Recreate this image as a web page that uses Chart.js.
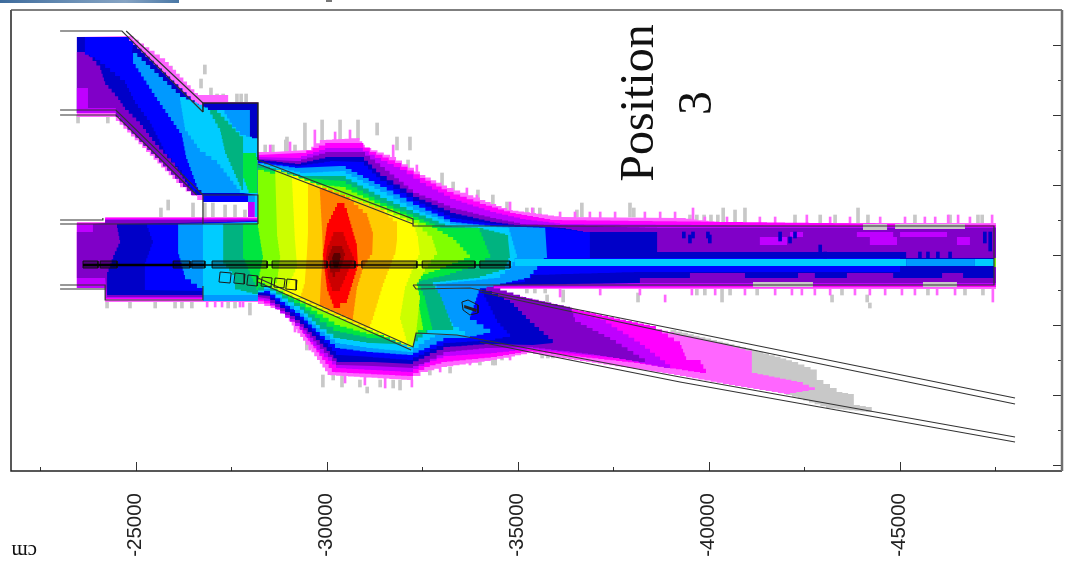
<!DOCTYPE html>
<html><head><meta charset="utf-8">
<style>html,body{margin:0;padding:0;background:#fff;overflow:hidden}
#wrap{position:relative;width:1067px;height:570px}
#strip{position:absolute;left:0;top:0;width:179px;height:3px;background:linear-gradient(90deg,#3d6b9c,#6f93b8 45%,#86a4c4 70%,#4a78a6)}
#nick{position:absolute;left:326px;top:0;width:6px;height:2px;background:#777}
canvas{position:absolute;left:0;top:0}</style>
<script src="https://cdn.jsdelivr.net/npm/chart.js@4/dist/chart.umd.min.js"></script>
</head><body><div id="wrap"><canvas id="c" width="1067" height="570"></canvas><div id="strip"></div><div id="nick"></div></div>
<script>
// axis values (cm)
const xTickValues=[-25000,-30000,-35000,-40000,-45000];
const xMinorValues=[-22500,-27500,-32500,-37500,-42500,-47500];
const yTickValues=[5250,3500,1750,0,-1750,-3500,-5250];
const yMinorValues=[4375,2625,875,-875,-2625,-4375];
const xRange=[-49250,-21735], yRange=[-5400,6125];
const titleLines=["Position","3"], unitLabel="cm";

// upper-left branch contour bands [x,y]
const upperMagenta=[[-23460,5450],[-24800,5475],[-25770,4825],[-26630,3950],[-26550,4000],[-27420,4000],[-27420,3825],[-28200,3825],[-28200,1375],[-26760,1375],[-26160,1800],[-24480,3450],[-23460,3450]];
const upperDark=[[-23460,5450],[-24720,5450],[-26760,3575],[-26760,3800],[-28200,3800],[-28200,1500],[-26550,1500],[-24480,3550],[-23460,3550]];
const upperPurple=[[-23460,5075],[-23670,5075],[-24070,4625],[-24200,4250],[-24540,3875],[-24720,3625],[-25110,3250],[-25510,2750],[-26030,2200],[-26420,1625],[-26550,1500],[-24480,3550],[-23460,3550]];
const upperViolet=[[-23460,4175],[-23750,4175],[-23750,3675],[-24480,3675],[-24480,3550],[-23460,3550]];
const upperBlue=[[-23670,5450],[-24720,5450],[-24930,5250],[-24900,5050],[-25240,4375],[-25560,3950],[-26210,3050],[-26340,2500],[-26630,1625],[-26550,1575],[-26210,2125],[-25770,2625],[-25370,3375],[-24980,3875],[-24720,4375],[-24070,4875],[-23670,5075]];
const upperMid=[[-24930,5050],[-26160,3950],[-26810,3625],[-27990,3625],[-27990,2875],[-27730,1550],[-26810,1550],[-26630,1700],[-26320,2500],[-26210,3050],[-25560,3950],[-24930,4875]];
const upperCyan=[[-26160,3950],[-26890,3625],[-27260,3625],[-27520,3200],[-27730,3000],[-28200,2875],[-28200,1500],[-27810,1550],[-27130,2375],[-26680,2675],[-26290,3200]];
const upperTeal=[[-26950,3625],[-27130,3550],[-27810,2875],[-27810,1625],[-27340,2625],[-27210,3175]];
const upperGreen=[[-27810,2550],[-28120,2550],[-28200,2250],[-28200,1550],[-27990,1550],[-27810,2000]];
const boxRowBlue=[[-26760,1500],[-27940,1500],[-27940,1325],[-26760,1325]];
const boxRowMid=[[-27940,1500],[-28200,1500],[-28200,1325],[-27940,1325]];
const boxColViolet=[[-27940,1325],[-28120,1325],[-28120,925],[-27940,925]];
const boxColCyan=[[-28120,1500],[-28200,1500],[-28200,800],[-28120,800]];

// main nested contour bands [x,y]
const bandLightMagenta=[[-23460,825],[-24200,825],[-24200,950],[-28200,950],[-28200,2575],[-28590,2575],[-29480,2625],[-29820,2875],[-30790,2925],[-31000,2675],[-31660,2450],[-32440,2000],[-33150,1675],[-34010,1375],[-34720,1125],[-35320,1050],[-36110,950],[-39250,925],[-40300,800],[-47520,800],[-47520,-850],[-34010,-850],[-36110,-1275],[-39250,-2000],[-40300,-2225],[-41130,-2425],[-41130,-2950],[-42310,-3175],[-42780,-3375],[-42130,-3475],[-40690,-3250],[-39250,-3000],[-35400,-2450],[-34460,-2625],[-33150,-2800],[-32650,-2925],[-32260,-3125],[-30090,-3000],[-29820,-2625],[-29380,-2050],[-28860,-1375],[-28200,-1175],[-24200,-1175],[-24200,-825],[-23460,-825]];
const bandMagenta=[[-23460,800],[-24200,800],[-24200,925],[-28200,925],[-28200,2500],[-29300,2550],[-29960,2800],[-30790,2800],[-31130,2575],[-31790,2300],[-32440,1925],[-33150,1575],[-34010,1275],[-34800,1050],[-35850,875],[-47520,750],[-47520,-800],[-34010,-825],[-36110,-1300],[-38460,-1775],[-39250,-2250],[-39410,-2625],[-39720,-2625],[-39930,-2950],[-38200,-2700],[-35400,-2400],[-34460,-2550],[-33150,-2675],[-32700,-2800],[-32260,-3025],[-30220,-2925],[-29880,-2525],[-29430,-1950],[-28990,-1375],[-28200,-1100],[-24200,-1100],[-24200,-825],[-23460,-825]];
const bandViolet=[[-23460,775],[-24200,775],[-24200,900],[-28200,900],[-28200,2450],[-29170,2425],[-29960,2675],[-30790,2675],[-31260,2425],[-31920,2125],[-32440,1800],[-33230,1400],[-34280,1075],[-35060,900],[-36110,775],[-47520,700],[-47520,-750],[-34010,-800],[-36110,-1350],[-37160,-1625],[-38200,-2250],[-38990,-2825],[-37680,-2575],[-35400,-2350],[-34460,-2450],[-33230,-2525],[-32700,-2700],[-32260,-2925],[-30350,-2825],[-29820,-2375],[-29300,-1775],[-28520,-1150],[-28200,-1075],[-24200,-1075],[-24200,-825],[-23460,-825]];
const bandPurple=[[-23880,775],[-24200,800],[-24200,875],[-28200,875],[-28200,2400],[-29170,2350],[-29960,2575],[-30870,2575],[-31400,2200],[-32260,1550],[-33230,1175],[-34280,925],[-35060,775],[-38650,675],[-47520,675],[-47520,-700],[-38200,-700],[-34200,-775],[-35060,-1050],[-36370,-1325],[-36500,-1675],[-37420,-2125],[-38330,-2675],[-37160,-2500],[-35400,-2300],[-34280,-2325],[-33230,-2425],[-32700,-2675],[-32260,-2825],[-31210,-2775],[-30350,-2750],[-29820,-2250],[-29300,-1700],[-28520,-1100],[-28200,-1050],[-24250,-1050],[-24200,-575],[-23460,-575],[-23460,575],[-23880,575]];
const bandDarkBlue=[[-24510,775],[-27600,825],[-28200,825],[-28200,2375],[-29170,2275],[-29960,2450],[-30870,2450],[-31400,1975],[-32260,1450],[-33230,1050],[-34280,825],[-35060,725],[-36110,675],[-36710,575],[-38650,575],[-38650,75],[-45170,75],[-45170,-75],[-47470,-75],[-47470,-575],[-38200,-575],[-38200,-700],[-34280,-750],[-34010,-825],[-34800,-1200],[-35320,-1700],[-35920,-2200],[-35400,-2250],[-34280,-2225],[-33230,-2300],[-32700,-2525],[-32260,-2725],[-31210,-2675],[-30350,-2675],[-29820,-2125],[-29300,-1625],[-28520,-1025],[-28200,-1000],[-24250,-1000],[-24250,-425],[-24410,0],[-24590,375]];
const bandBlue=[[-25300,775],[-28200,850],[-28200,2325],[-29170,2225],[-30090,2350],[-30870,2325],[-31400,1850],[-32260,1350],[-33230,925],[-34280,775],[-35720,700],[-36710,575],[-36890,575],[-36890,-75],[-45010,-75],[-45010,-425],[-38200,-425],[-35510,-500],[-35190,-675],[-34280,-725],[-34010,-850],[-34460,-1700],[-34800,-2050],[-34410,-2125],[-33230,-2200],[-32700,-2425],[-32260,-2625],[-31210,-2550],[-30350,-2500],[-29820,-2000],[-29300,-1525],[-28520,-975],[-28200,-925],[-25240,-875],[-25240,-175],[-25450,375]];
const bandMidBlue=[[-26110,775],[-28200,825],[-28200,2300],[-29170,2175],[-30350,2225],[-31400,1700],[-32260,1250],[-33230,825],[-34280,725],[-35720,675],[-35770,-75],[-35510,-375],[-35320,-575],[-34540,-750],[-34010,-875],[-33750,-1625],[-34280,-1950],[-33750,-2075],[-33230,-2075],[-32700,-2325],[-32260,-2500],[-31210,-2425],[-30350,-2325],[-29820,-1925],[-29300,-1450],[-28520,-900],[-28200,-975],[-28200,-1150],[-26760,-1150],[-26760,-825],[-26290,-500],[-26110,125]];
const bandCyan=[[-26760,775],[-28200,825],[-28200,2275],[-29300,2050],[-30350,2100],[-31400,1575],[-32260,1125],[-33230,775],[-34750,675],[-34980,-75],[-34800,-375],[-34540,-575],[-32970,-725],[-32780,-950],[-33310,-1800],[-33620,-2000],[-32970,-2000],[-32700,-2125],[-32260,-2425],[-31210,-2325],[-30350,-2200],[-29820,-1825],[-29300,-1375],[-28520,-850],[-28200,-1000],[-26760,-1000]];
const bandTeal=[[-27290,775],[-28200,800],[-28200,2250],[-29300,1975],[-30350,1975],[-31400,1425],[-32260,1050],[-33100,725],[-33960,675],[-34670,500],[-34750,375],[-34800,-75],[-34670,-375],[-34010,-575],[-32970,-675],[-32780,-775],[-32970,-1050],[-33310,-1875],[-32760,-1875],[-32260,-2250],[-31210,-2200],[-30350,-2075],[-29820,-1750],[-29300,-1275],[-28520,-800],[-28200,-975],[-27600,-825],[-27600,-500],[-27290,-125]];
const bandGreen=[[-27810,775],[-28200,800],[-28200,2175],[-29300,1925],[-30350,1850],[-31400,1300],[-32260,950],[-32970,675],[-33960,675],[-34280,-75],[-34010,-250],[-33230,-500],[-32360,-675],[-32570,-1125],[-32760,-1875],[-32440,-2000],[-32260,-2125],[-31210,-2075],[-30350,-1900],[-29820,-1575],[-29300,-1200],[-28520,-750],[-28200,-875],[-28120,-675],[-27810,0]];
const bandLime=[[-28200,775],[-28200,2125],[-29300,1800],[-30350,1700],[-31400,1225],[-32260,875],[-32760,675],[-33310,375],[-33750,-75],[-32970,-375],[-32360,-575],[-32360,-1000],[-32520,-1875],[-32260,-2050],[-31210,-1975],[-30350,-1750],[-29300,-1125],[-28570,-775],[-28200,-625],[-28330,0]];
const bandYellowGreen=[[-28650,2125],[-30350,1500],[-31400,1125],[-32260,800],[-32760,375],[-32890,0],[-32570,-425],[-32360,-775],[-32440,-1125],[-32340,-2000],[-32260,-2300],[-31210,-1875],[-30350,-1525],[-29300,-1075],[-28570,-775],[-28700,-625],[-28780,0],[-28700,550]];
const bandYellow=[[-29090,1975],[-30350,1500],[-31400,1125],[-32260,775],[-32390,375],[-32440,0],[-32260,-375],[-32050,-875],[-31920,-1625],[-32100,-2225],[-31210,-1875],[-30350,-1525],[-29300,-1075],[-28910,-900],[-29220,-250],[-29170,375]];
const bandAmber=[[-29510,1800],[-30350,1500],[-31400,1125],[-31840,750],[-31840,375],[-31790,0],[-31470,-800],[-31210,-1625],[-31130,-1825],[-30350,-1500],[-29560,-1150],[-29300,-1050],[-29430,-625],[-29480,0],[-29510,550]];
const bandOrange=[[-29820,1675],[-30480,1450],[-31060,950],[-31210,500],[-31190,0],[-30950,-375],[-30790,-875],[-30690,-1600],[-29820,-1225],[-29850,-625],[-29900,0],[-29880,625]];
const bandRed=[[-30270,1300],[-30400,1300],[-30530,1050],[-30790,200],[-30820,-300],[-30530,-1200],[-30350,-1325],[-30220,-1325],[-30010,-800],[-29900,50],[-30010,800]];
const bandDarkRed=[[-30170,575],[-30400,575],[-30530,250],[-30710,-125],[-30480,-625],[-30350,-900],[-30170,-900],[-30030,-500],[-29980,-75],[-30030,250]];
const bandDeepRed=[[-30140,225],[-30370,225],[-30480,-25],[-30350,-425],[-30220,-550],[-30090,-325],[-30030,-25]];
const bandPeak=[[-30190,50],[-30350,50],[-30370,-75],[-30300,-325],[-30190,-325],[-30140,-75]];

// lower branch grey tail and right pipe details
const tailGray=[[-39000,-1875],[-41130,-2375],[-42180,-2675],[-42830,-2925],[-42830,-3125],[-43350,-3425],[-43800,-3500],[-43800,-3750],[-44270,-3825],[-44270,-3925],[-43220,-3825],[-42180,-3500],[-39000,-2675]];
const coreCyan=[[-34930,-100],[-45170,-100],[-45170,-275],[-34930,-275]];
const coreMid=[[-45170,-100],[-46970,-100],[-46970,-275],[-45170,-275]];
const coreCyanEnd=[[-46970,-100],[-47470,-100],[-47470,-275],[-46970,-275]];
const coreEndCell=[[-47470,-75],[-47520,-75],[-47520,-300],[-47470,-300]];
const rowGrayA=[[-44040,775],[-44670,775],[-44670,625],[-44040,625]];
const rowGrayB=[[-44880,775],[-46710,775],[-46710,650],[-44880,650]];
const rowGrayC=[[-41160,-675],[-42730,-675],[-42730,-800],[-41160,-800]];
const rowGrayD=[[-45610,-675],[-46500,-675],[-46500,-800],[-45610,-800]];
const patchVioletA=[[-41340,450],[-42050,450],[-42050,250],[-41340,250]];
const patchVioletB=[[-44220,450],[-44930,450],[-44930,250],[-44220,250]];
const patchVioletC=[[-46500,450],[-46840,450],[-46840,250],[-46500,250]];
const patchVioletD=[[-42130,575],[-42470,575],[-42470,450],[-42130,450]];
const patchVioletE=[[-43880,575],[-44830,575],[-44830,450],[-43880,450]];
const patchVioletF=[[-45010,575],[-46240,575],[-46240,450],[-45010,450]];
const patchPurpleA=[[-39510,-450],[-40950,-450],[-40950,-575],[-39510,-575]];
const patchPurpleB=[[-42340,-450],[-42780,-450],[-42780,-575],[-42340,-575]];
const patchPurpleC=[[-43620,-450],[-44830,-450],[-44830,-575],[-43620,-575]];
const patchPurpleD=[[-46110,-450],[-46660,-450],[-46660,-575],[-46110,-575]];

// scatter columns outside the bands [x,low,high]
const graySpikes=[[-25920,4500,4725],[-26810,4525,4750],[-26710,4175,4400],[-26970,3975,4175],[-27130,3800,4025],[-27290,3800,4025],[-27650,3800,4025],[-27760,3800,4025],[-27890,3800,4025],[-28390,2500,2750],[-28930,2500,2875],[-29170,2500,2750],[-29430,2625,3300],[-29880,2625,3375],[-30350,2875,3375],[-30820,2875,3375],[-31320,3000,3300],[-28960,2575,2950],[-28590,2575,2750],[-31840,2625,2950],[-32180,2625,2950],[-32130,2075,2375],[-33020,1700,2050],[-33310,1550,1825],[-33960,1375,1625],[-34350,1250,1500],[-34720,1075,1325],[-35240,950,1175],[-35400,950,1175],[-35580,950,1175],[-36680,950,1300],[-36550,950,1125],[-37940,950,1300],[-38040,950,1175],[-39510,800,1000],[-39690,800,1000],[-39880,800,1000],[-40060,800,1000],[-40240,800,1000],[-40380,800,1175],[-40690,800,1125],[-40950,800,1175],[-42260,800,1000],[-42920,800,1000],[-43310,800,1000],[-43910,800,1175],[-44170,800,1000],[-45400,800,1000],[-46320,800,1000],[-47050,800,1000],[-47160,800,1000],[-40350,-1175,-825],[-43230,-1175,-1000],[-44150,-1175,-1000],[-44220,-1325,-1200],[-39690,-1000,-825],[-39900,-1000,-825],[-40560,-1000,-825],[-41270,-1000,-825],[-43490,-1000,-825],[-45740,-1000,-825],[-46710,-1000,-825],[-47180,-1000,-825],[-35240,-950,-825],[-35450,-950,-825],[-35720,-950,-825],[-36190,-1175,-875],[-35770,-1175,-1000],[-38150,-1175,-950],[-29900,-3300,-3000],[-31060,-3450,-3300],[-30870,-3300,-3125],[-31400,-3300,-3125],[-31740,-3325,-3125],[-31920,-3375,-3125],[-33230,-2950,-2800],[-32700,-3000,-2800],[-34010,-2750,-2450],[-34350,-2750,-2450],[-34590,-2625,-2450],[-33620,-2675,-2450],[-33800,-2675,-2375],[-34410,-2750,-2550],[-35640,-2575,-2400],[-35790,-2575,-2400],[-35920,-2575,-2400],[-29480,-2375,-2075],[-27990,-1500,-1200],[-24250,-1325,-1175],[-24850,-1325,-1175],[-25510,-1325,-1175],[-26030,-1325,-1175],[-26210,-1325,-1175],[-26470,-1325,-1175],[-27420,-1325,-1175],[-27600,-1325,-1175],[-30170,-3125,-2950],[-30400,-3300,-2950],[-23490,3300,3500],[-24270,3300,3500],[-25850,1125,1375],[-25660,950,1175],[-26500,950,1300],[-26810,950,1300],[-27020,950,1300],[-27340,950,1250],[-27600,950,1250],[-27860,950,1125]];
const magentaSpikes=[[-30220,2875,3075],[-31740,2375,2750],[-32360,1950,2250],[-33670,1375,1675],[-33930,1250,1500],[-34800,1075,1325],[-35380,925,1175],[-39590,800,1175],[-40480,800,950],[-42570,800,1000],[-46270,800,1000],[-46530,800,1000],[-47420,800,1000],[-39560,-1000,-825],[-42180,-1000,-825],[-42440,-1000,-825],[-43180,-1000,-825],[-44220,-1000,-825],[-45060,-1000,-825],[-45980,-1000,-825],[-47440,-1175,-825],[-38860,-1175,-1000],[-28520,2550,2750],[-29040,2575,2825],[-29690,2625,3125],[-30610,2875,3125],[-30480,-3200,-3000],[-31000,-3250,-3000],[-31530,-3325,-3075],[-32230,-3300,-3125],[-32970,-2925,-2750],[-33750,-2750,-2500],[-34800,-2625,-2425],[-29560,-2375,-2125],[-29170,-1925,-1700],
 [-36110,925,1075],[-36500,925,1075],[-36890,925,1075],[-37160,925,1075],[-37550,925,1075],[-38330,925,1075],[-38730,925,1075],[-39120,925,1075],[-39900,800,950],[-41340,800,950],[-41740,800,950],[-43180,800,950],[-43700,800,950],[-44490,800,950],[-45140,800,950],[-45660,800,950],[-45930,800,950],[-46840,800,950],
 [-36110,-1050,-825],[-37160,-1000,-825],[-38200,-1000,-825],[-40170,-1000,-825],[-40950,-1000,-825],[-41740,-1000,-825],[-42780,-1000,-825],[-43830,-1000,-825],[-44620,-1000,-825],[-45400,-1000,-825],[-46450,-1000,-825],
 [-26870,-1300,-1150],[-27080,-1300,-1150],[-27260,-1300,-1150],[-27730,-1300,-1150],[-27810,-1300,-1150]];
const darkStripes=[[-39350,425,575],[-39590,425,575],[-39510,300,500],[-40030,300,500],[-39980,425,575],[-41870,350,575],[-42130,300,450],[-42260,425,575],[-42920,75,250],[-43050,-75,75],[-45530,-75,75],[-45740,-75,75],[-46000,-75,75],[-46320,-75,75],[-47230,300,575],[-47370,100,575]];

// geometry outlines [x,y]
const wallA=[[-23020,5600],[-24640,5600],[-26760,3575]];
const wallA2=[[-24750,5600],[-26760,3800]];
const wallBox=[[-26760,3575],[-26760,3800],[-28200,3800],[-28200,2375]];
const wallB=[[-23020,3625],[-24480,3625],[-26760,1500],[-28200,1500],[-28200,775]];
const wallB2=[[-23020,3500],[-24480,3500],[-26600,1500]];
const wallC=[[-26760,1500],[-26760,775]];
const wallD=[[-23020,875],[-24140,875],[-24140,925]];
const wallD2=[[-23020,775],[-24200,775],[-28200,775]];
const wallE=[[-23020,-750],[-24200,-750],[-24200,-1125],[-26760,-1125],[-26760,-775]];
const wallE2=[[-23020,-850],[-24200,-850]];
const wallF=[[-28200,2375],[-32260,900],[-32260,725],[-47470,725],[-47470,-750],[-32260,-750]];
const wallF2=[[-28200,2275],[-32260,775]];
const wallG=[[-32260,-750],[-32340,-850],[-33750,-825],[-39250,-1875],[-48020,-3575]];
const wallG2=[[-34010,-925],[-39250,-2000],[-48020,-3725]];
const wallH=[[-28200,-575],[-32260,-2300],[-32340,-1950],[-33410,-2000],[-39250,-3050],[-48020,-4550]];
const wallH2=[[-28200,-675],[-32210,-2375]];
const wallH3=[[-34010,-2175],[-39250,-3175],[-48020,-4675]];
const beamStarts=[-23620,-24070,-25980,-26470,-27000,-28570,-30090,-30920,-32500,-34010];
const beamEnds=[-24010,-24510,-26420,-26810,-28440,-30010,-30740,-32360,-33880,-34800];
const beamTop=-150, beamBottom=-325;
const beamAxisA=[[-23620,-250],[-26810,-250]];
const beamAxisB=[[-26810,-250],[-34800,-250]];
const squareA=[[-27210,-425],[-27500,-450],[-27470,-700],[-27180,-675],[-27210,-425]];
const squareB=[[-27600,-450],[-27860,-475],[-27840,-725],[-27570,-700],[-27600,-450]];
const squareC=[[-27940,-500],[-28200,-525],[-28180,-775],[-27910,-750],[-27940,-500]];
const squareD=[[-28310,-550],[-28570,-575],[-28540,-800],[-28280,-775],[-28310,-550]];
const squareE=[[-28650,-575],[-28910,-600],[-28880,-825],[-28620,-800],[-28650,-575]];
const squareF=[[-28960,-600],[-29220,-625],[-29200,-875],[-28930,-850],[-28960,-600]];
const capsule=[[-33540,-1175],[-33700,-1125],[-33960,-1250],[-33960,-1450],[-33750,-1500],[-33570,-1375],[-33540,-1175]];
const capsuleCore=[[-33600,-1250],[-33930,-1350],[-33910,-1425],[-33600,-1325]];

// colours
const cGray='#c8c8c8',cLM='#ff66ff',cM='#ff00ff',cV='#bf00ff',cP='#8000c8',cDB='#0000c8',cB='#0000ff',cMB='#0099ff',cC='#00ccff',cT='#00b380',cG='#00e640',cL='#80ff00',cYG='#ccff00',cY='#ffff00',cA='#ffcc00',cO='#ff8000',cR='#ff0000',cDR='#cc0000',cDDR='#990000',cPk='#5a0000';

const pts=a=>a.map(p=>({x:p[0],y:p[1]}));
const ds=[];
const spikes=(a,color,w)=>ds.push({type:'bar',data:a.map(s=>({x:s[0],y:[s[1],s[2]]})),backgroundColor:color,barThickness:w,grouped:false});
const band=(a,color,stairs=true)=>ds.push({type:'line',data:pts(a),polygon:true,stairs,polyFill:color,showLine:false,pointRadius:0,borderWidth:0});
const wall=(a,color='#333',w=1.2)=>ds.push({type:'line',data:pts(a),showLine:true,fill:false,pointRadius:0,borderWidth:w,borderColor:color,tension:0});

spikes(graySpikes,cGray,3);
band(tailGray,cGray);
spikes(magentaSpikes,cLM,2);
[[upperMagenta,cLM],[upperDark,cDB],[upperPurple,cP],[upperViolet,cV],[upperBlue,cB],[upperMid,cMB],[upperCyan,cC],[upperTeal,cT],[upperGreen,cG],
 [boxRowBlue,cB],[boxRowMid,cMB],[boxColViolet,cV],[boxColCyan,cC],
 [bandLightMagenta,cLM],[bandMagenta,cM],[bandViolet,cV],[bandPurple,cP],[bandDarkBlue,cDB],[bandBlue,cB],[bandMidBlue,cMB],[bandCyan,cC],[bandTeal,cT],[bandGreen,cG],[bandLime,cL],[bandYellowGreen,cYG],[bandYellow,cY],[bandAmber,cA],[bandOrange,cO],[bandRed,cR],[bandDarkRed,cDR],[bandDeepRed,cDDR],[bandPeak,cPk]
].forEach(b=>band(b[0],b[1]));
[[coreCyan,cC],[coreMid,cMB],[coreCyanEnd,cC],[coreEndCell,cL],[rowGrayA,cGray],[rowGrayB,cGray],[rowGrayC,cGray],[rowGrayD,cGray],
 [patchVioletA,cV],[patchVioletB,cV],[patchVioletC,cV],[patchVioletD,cV],[patchVioletE,cV],[patchVioletF,cV],
 [patchPurpleA,cP],[patchPurpleB,cP],[patchPurpleC,cP],[patchPurpleD,cP]].forEach(b=>band(b[0],b[1],false));
spikes(darkStripes,cDB,3);
[wallA,wallA2,wallB,wallB2,wallC,wallD,wallD2,wallE,wallE2,wallF,wallF2,wallG,wallG2,wallH,wallH2,wallH3].forEach(w=>wall(w));
wall(wallBox,'#222',1.5);
beamStarts.forEach((s,i)=>{
  band([[s,beamTop],[beamEnds[i],beamTop],[beamEnds[i],beamBottom],[s,beamBottom]],'rgba(0,0,0,0.38)',false);
  wall([[s,beamTop],[beamEnds[i],beamTop],[beamEnds[i],beamBottom],[s,beamBottom],[s,beamTop]],'#111',1);
});
wall(beamAxisA,'#000',2.5);
wall(beamAxisB,'rgba(0,0,0,0.7)',2);
[squareA,squareB,squareC,squareD,squareE,squareF,capsule].forEach(w=>wall(w,'#1a1a1a',1));
band(capsuleCore,'#222',false);
ds.forEach((d,i)=>{d.order=ds.length-i;});

const polygonPlugin={id:'polygons',beforeDatasetDraw(chart,args){
  const d=chart.data.datasets[args.index];
  if(!d.polygon)return;
  const p=chart.getDatasetMeta(args.index).data, c=chart.ctx, a=chart.chartArea;
  c.save();c.beginPath();c.rect(a.left,a.top,a.width,a.height);c.clip();
  c.beginPath();
  for(let i=0;i<p.length;i++){
    const q=p[i], o=p[(i+p.length-1)%p.length];
    if(i===0){c.moveTo(o.x,o.y);}
    const dx=q.x-o.x, dy=q.y-o.y;
    if(d.stairs&&Math.abs(dx)>2&&Math.abs(dy)>2){
      const n=Math.max(1,Math.round(Math.max(Math.abs(dx)/6,Math.abs(dy)/4)));
      for(let k=1;k<=n;k++){const X=o.x+dx*k/n,Y=o.y+dy*k/n;c.lineTo(X,o.y+dy*(k-1)/n);c.lineTo(X,Y);}
    }else c.lineTo(q.x,q.y);
  }
  c.closePath();c.fillStyle=d.polyFill;c.fill();c.restore();
}};
const framePlugin={id:'frame',afterDraw(chart){
  const c=chart.ctx,a=chart.chartArea,X=chart.scales.x,Y=chart.scales.y;
  c.save();
  c.lineWidth=1;c.strokeStyle='#333';
  const vt=(v,l)=>{const p=Math.round(X.getPixelForValue(v))+.5;c.beginPath();c.moveTo(p,a.bottom);c.lineTo(p,a.bottom-l);c.stroke();};
  const ht=(v,l)=>{const p=Math.round(Y.getPixelForValue(v))+.5;c.beginPath();c.moveTo(a.right,p);c.lineTo(a.right-l,p);c.stroke();};
  xTickValues.forEach(v=>vt(v,9));xMinorValues.forEach(v=>vt(v,4));
  yTickValues.forEach(v=>ht(v,9));yMinorValues.forEach(v=>ht(v,4));
  c.lineWidth=1.5;c.strokeStyle='#222';
  c.beginPath();c.moveTo(a.left,a.top);c.lineTo(a.left,a.bottom);c.lineTo(a.right,a.bottom);c.stroke();
  c.strokeStyle='#555';c.beginPath();c.moveTo(a.left,a.top);c.lineTo(a.right,a.top);c.stroke();
  c.lineWidth=2.5;c.strokeStyle='#707070';c.beginPath();c.moveTo(a.right,a.top);c.lineTo(a.right,a.bottom);c.stroke();
  c.fillStyle='#111';c.textAlign='center';c.textBaseline='middle';
  const label=(t,xv,yv,rot,font)=>{c.save();c.translate(X.getPixelForValue(xv),Y.getPixelForValue(yv));c.rotate(rot);c.font=font;c.fillText(t,0,0);c.restore();};
  label(titleLines[0],-38200,3800,-Math.PI/2,'48px "Liberation Serif"');
  label(titleLines[1],-39720,3800,-Math.PI/2,'48px "Liberation Serif"');
  label(unitLabel,-22080,-7400,Math.PI,'21px "Liberation Serif"');
  c.restore();
}};
new Chart(document.getElementById('c'),{
  data:{datasets:ds},
  plugins:[polygonPlugin,framePlugin],
  options:{responsive:false,animation:false,events:[],
    layout:{padding:{left:11,top:10,right:5,bottom:0}},
    plugins:{legend:{display:false},tooltip:{enabled:false},title:{display:false}},
    scales:{
      x:{type:'linear',reverse:true,min:xRange[0],max:xRange[1],offset:false,
        grid:{display:false,drawTicks:false},border:{display:false},
        afterBuildTicks(s){s.ticks=xTickValues.map(v=>({value:v}));},
        afterFit(s){s.height=99;},
        ticks:{autoSkip:false,minRotation:90,maxRotation:90,padding:22,color:'#222',font:{family:'"Liberation Sans"',size:20.5},callback:v=>String(v)}},
      y:{type:'linear',display:false,min:yRange[0],max:yRange[1]}
    }}
});
</script></body></html>
